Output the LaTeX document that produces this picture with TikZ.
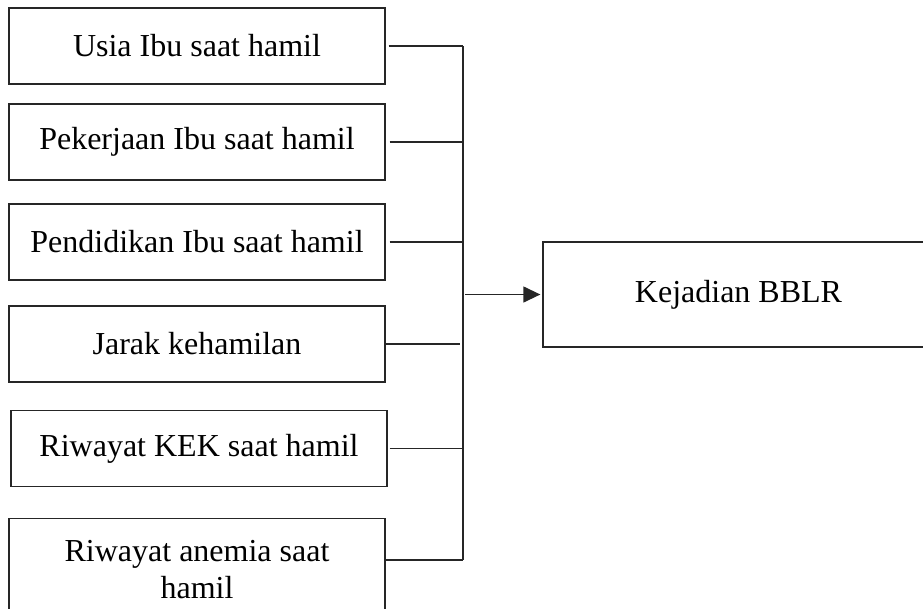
\documentclass[tikz,border=0pt]{standalone}
\usepackage{fontspec}
\setmainfont{Liberation Serif}
\usetikzlibrary{arrows.meta}
\begin{document}
\begin{tikzpicture}[x=1pt,y=-1pt,
  box/.style={draw=black!85, line width=1.3pt, minimum width=376pt, minimum height=76pt,
    inner sep=0pt, font=\fontsize{32}{37}\selectfont, align=center},
  conn/.style={line width=1.3pt, draw=black!85}]
\useasboundingbox (0,0) rectangle (923,608);
\clip (0,0) rectangle (923,608);
\node[box] (b1) at (197,46) {Usia Ibu saat hamil};
\node[box] (b2) at (197,142) {Pekerjaan Ibu saat hamil};
\node[box] (b3) at (197,242) {Pendidikan Ibu saat hamil};
\node[box] (b4) at (197,344) {Jarak kehamilan};
\node[box] (b5) at (199,448.5) {Riwayat KEK saat hamil};
\node[box, minimum height=102pt, anchor=north] (b6) at (197,518) {Riwayat anemia saat\\hamil};
\node[box, minimum width=391pt, minimum height=105pt] (kej) at (738.5,294.5) {Kejadian BBLR};
\coordinate (bus) at (463,0);
\coordinate (j6) at (463,560);
\draw[conn] ([xshift=3pt]b1.east) -- (b1.east -| bus);
\draw[conn] ([xshift=4pt]b2.east) -- (b2.east -| bus);
\draw[conn] ([xshift=4pt]b3.east) -- (b3.east -| bus);
\draw[conn] (b4.east) -- ([xshift=-3pt]b4.east -| bus);
\draw[conn] ([xshift=2pt]b5.east) -- (b5.east -| bus);
\draw[conn] (b6.east |- j6) -- (j6);
\draw[conn] (b1.east -| bus) -- (j6);
\draw[conn, -{Triangle[length=17pt,width=16pt]}] ([xshift=2pt]kej.west -| bus) -- ([xshift=-2pt]kej.west);
\end{tikzpicture}
\end{document}
